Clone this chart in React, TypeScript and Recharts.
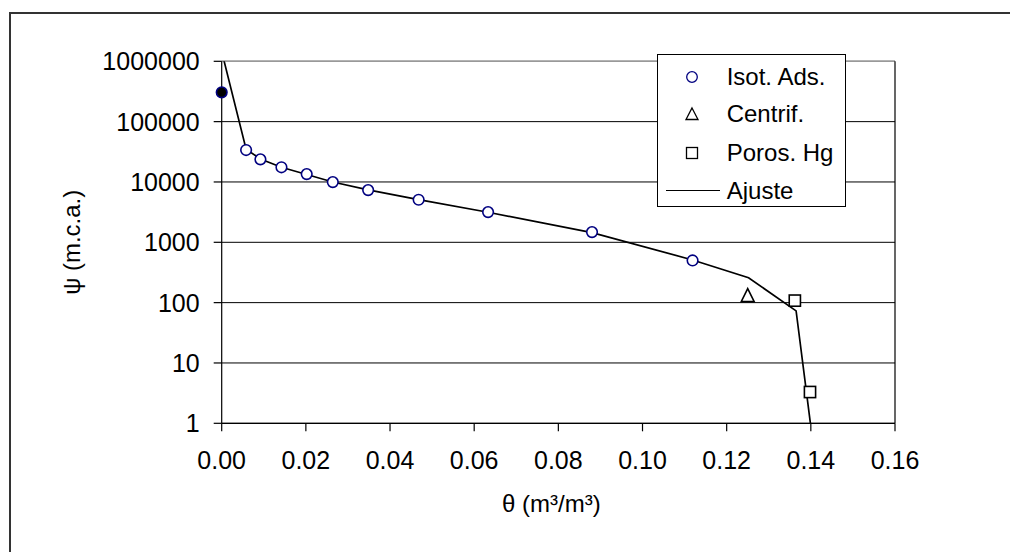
import React from 'react';
import {
  ComposedChart,
  Scatter,
  XAxis,
  YAxis,
  CartesianGrid,
  ReferenceLine,
  Legend,
  Label,
} from 'recharts';

// θ (m³/m³) vs ψ (m.c.a.)
const isotTheta = [0.0058, 0.0092, 0.0142, 0.0202, 0.0264, 0.0348, 0.0468, 0.0633, 0.088, 0.1119];
const isotPsi = [33800, 23700, 17500, 13500, 9950, 7340, 5070, 3170, 1475, 500];

const solidTheta = [0];
const solidPsi = [306000];

const centrifTheta = [0.125];
const centrifPsi = [133];

const porosTheta = [0.1362, 0.1398];
const porosPsi = [108, 3.3];

const fitTheta = [0.0003, 0.0058, 0.0092, 0.0142, 0.0202, 0.0264, 0.0348, 0.0468, 0.0633, 0.088, 0.1119, 0.1252, 0.1365, 0.1399];
const fitPsi = [1200000, 35000, 24000, 17500, 13300, 10000, 7400, 5100, 3150, 1450, 510, 258, 73, 1];

const xTicks = [0, 0.02, 0.04, 0.06, 0.08, 0.1, 0.12, 0.14, 0.16];
const yTicks = [1, 10, 100, 1000, 10000, 100000, 1000000];

const seriesNames = ['Isot. Ads.', 'Centrif.', 'Poros. Hg', 'Ajuste'];

const zip = (xs: number[], ys: number[]) => xs.map((x, i) => ({ x, y: ys[i] }));

const isotData = zip(isotTheta, isotPsi);
const solidData = zip(solidTheta, solidPsi);
const centrifData = zip(centrifTheta, centrifPsi);
const porosData = zip(porosTheta, porosPsi);
const fitData = zip(fitTheta, fitPsi);

const FONT = '"Liberation Sans", Arial, sans-serif';
const NAVY = '#000080';

const OpenCircle = (p: any) => (
  <circle cx={p.cx} cy={p.cy} r={5.3} fill="#fff" stroke={NAVY} strokeWidth={1.6} />
);
const SolidCircle = (p: any) => (
  <circle cx={p.cx} cy={p.cy} r={5.3} fill="#000" stroke={NAVY} strokeWidth={1.6} />
);
const Triangle = (p: any) => (
  <path
    d={`M${p.cx},${p.cy - 6.5} L${p.cx + 6.5},${p.cy + 6.5} L${p.cx - 6.5},${p.cy + 6.5} Z`}
    fill="#fff"
    stroke="#000"
    strokeWidth={1.6}
  />
);
const Square = (p: any) => (
  <rect x={p.cx - 5.6} y={p.cy - 5.6} width={11.2} height={11.2} fill="#fff" stroke="#000" strokeWidth={1.6} />
);
const NoDot = () => <g />;

const LegendBox = () => {
  const icons = [
    <circle cx={8} cy={8} r={5.3} fill="#fff" stroke={NAVY} strokeWidth={1.3} />,
    <path d="M8,2 L14,13.5 L2,13.5 Z" fill="#fff" stroke="#000" strokeWidth={1.3} />,
    <rect x={2.5} y={2.5} width={11} height={11} fill="#fff" stroke="#000" strokeWidth={1.3} />,
  ];
  const rowCenters = [22.3, 59.8, 98, 136.3];
  return (
    <div
      style={{
        position: 'relative',
        width: 189,
        height: 153,
        boxSizing: 'border-box',
        border: '1.5px solid #000',
        background: '#fff',
        fontFamily: FONT,
        fontSize: 24,
        color: '#000',
      }}
    >
      {seriesNames.map((name, i) => (
        <div key={name} style={{ position: 'absolute', left: 0, top: rowCenters[i] - 19, height: 38, width: '100%' }}>
          {i < 3 ? (
            <svg width={16} height={16} style={{ position: 'absolute', left: 26, top: 11 }}>
              {icons[i]}
            </svg>
          ) : (
            <div style={{ position: 'absolute', left: 8, top: 18, width: 54, height: 0, borderTop: '1.5px solid #000' }} />
          )}
          <span style={{ position: 'absolute', left: 69, top: 0, lineHeight: '38px', whiteSpace: 'nowrap' }}>{name}</span>
        </div>
      ))}
    </div>
  );
};

export default function App() {
  return (
    <div style={{ position: 'relative', width: 1000, height: 544 }}>
      <div
        style={{
          position: 'absolute',
          left: 1,
          top: 4,
          width: 1007,
          height: 546,
          borderTop: '2px solid #333',
          borderLeft: '2px solid #333',
        }}
      />
      <div style={{ position: 'absolute', left: 0, top: 0 }}>
        <ComposedChart
          width={1000}
          height={544}
          margin={{ top: 53.3, right: 113, bottom: 68.7, left: 93.7 }}
          style={{ fontFamily: FONT }}
        >
          <CartesianGrid yAxisId="main" vertical={false} stroke="#000" strokeWidth={1} horizontalValues={yTicks} />
          <XAxis
            type="number"
            dataKey="x"
            domain={[0, 0.16]}
            ticks={xTicks}
            tickFormatter={(v: number) => v.toFixed(2)}
            interval={0}
            height={60}
            tickSize={8}
            tickMargin={20}
            stroke="#000"
            tick={{ fill: '#000', fontSize: 25, fontFamily: FONT }}
            axisLine={{ stroke: '#000', strokeWidth: 1.2 }}
            tickLine={{ stroke: '#000', strokeWidth: 1.2 }}
          >
            <Label
              content={(props: any) => {
                const vb = props.viewBox;
                return (
                  <text
                    x={vb.x + vb.width / 2 - 7}
                    y={vb.y + 89}
                    textAnchor="middle"
                    fontSize={24}
                    fontFamily={FONT}
                    fill="#000"
                  >
                    θ (m³/m³)
                  </text>
                );
              }}
            />
          </XAxis>
          <YAxis
            yAxisId="main"
            type="number"
            dataKey="y"
            scale="log"
            domain={[1, 1000000]}
            ticks={yTicks}
            interval={0}
            width={120}
            tickSize={8}
            tickMargin={14}
            stroke="#000"
            tick={{ fill: '#000', fontSize: 25, fontFamily: FONT }}
            axisLine={{ stroke: '#000', strokeWidth: 1.2 }}
            tickLine={{ stroke: '#000', strokeWidth: 1.2 }}
          >
            <Label
              content={() => (
                <text
                  x={64}
                  y={234.3}
                  transform="rotate(-90 64 234.3)"
                  textAnchor="middle"
                  dominantBaseline="central"
                  fontSize={24}
                  fontFamily={FONT}
                  fill="#000"
                >
                  ψ (m.c.a.)
                </text>
              )}
            />
          </YAxis>
          <YAxis
            yAxisId="fit"
            type="number"
            dataKey="y"
            scale="log"
            domain={[1, 1000000]}
            allowDataOverflow
            width={0}
            hide
          />
          <ReferenceLine yAxisId="main" y={1000000} stroke="#999" strokeWidth={1.5} />
          <ReferenceLine yAxisId="main" x={0.16} stroke="#000" strokeWidth={1.2} />
          <Scatter
            yAxisId="fit"
            data={fitData}
            line={{ stroke: '#000', strokeWidth: 1.7 }}
            shape={NoDot}
            isAnimationActive={false}
          />
          <Scatter yAxisId="main" data={isotData} shape={OpenCircle} isAnimationActive={false} />
          <Scatter yAxisId="main" data={solidData} shape={SolidCircle} isAnimationActive={false} />
          <Scatter yAxisId="main" data={centrifData} shape={Triangle} isAnimationActive={false} />
          <Scatter yAxisId="main" data={porosData} shape={Square} isAnimationActive={false} />
          <Legend
            layout="horizontal"
            align="center"
            verticalAlign="middle"
            content={LegendBox}
            wrapperStyle={{ left: 648.7, top: 45.7, width: 189, height: 153, bottom: 'auto', right: 'auto' }}
          />
        </ComposedChart>
      </div>
    </div>
  );
}
